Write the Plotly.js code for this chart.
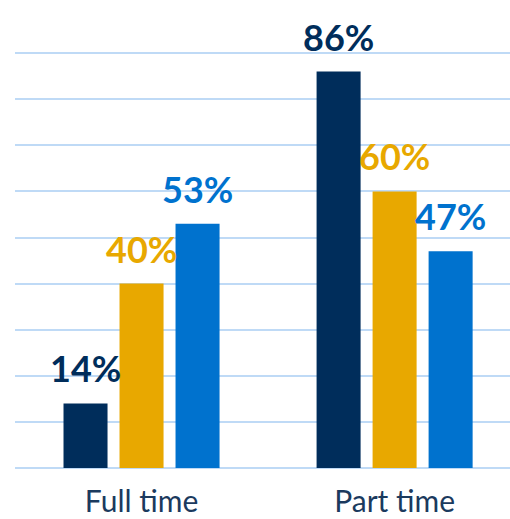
<!DOCTYPE html>
<html>
<head>
<meta charset="utf-8">
<script src="https://cdn.plot.ly/plotly-3.0.1.min.js"></script>
<style>html,body{margin:0;padding:0;background:#fff;}#chart{width:510px;height:519px;}</style>
</head>
<body>
<div id="chart"></div>
<script>
const categories = ["Full time", "Part time"];
const seriesA = [14, 86];
const seriesB = [40, 60];
const seriesC = [53, 47];
const seriesValues = [seriesA, seriesB, seriesC];
const seriesColors = ["#002D5B", "#E8A800", "#0072CE"];

const traces = seriesValues.map((vals, i) => ({
  type: "bar",
  x: categories,
  y: vals,
  marker: { color: seriesColors[i] },
  hoverinfo: "skip",
  showlegend: false
}));

const slotPx = 56;
const annotations = [];
seriesValues.forEach((vals, i) => {
  vals.forEach((v, j) => {
    annotations.push({
      x: categories[j], y: v, xref: "x", yref: "y",
      text: v + "%",
      showarrow: false,
      xanchor: "center", yanchor: "bottom",
      xshift: (i - 1) * slotPx,
      yshift: 11,
      font: { family: "Lato", size: 36, color: seriesColors[i], weight: 700 }
    });
  });
});

const layout = {
  width: 510, height: 519,
  margin: { l: 15, r: 0, t: 7, b: 51 },
  paper_bgcolor: "#ffffff", plot_bgcolor: "#ffffff",
  barmode: "group",
  bargap: 0.336,
  bargroupgap: 0.214,
  xaxis: {
    type: "category",
    range: [-0.5, 1.456],
    showgrid: false, zeroline: false, showline: false,
    ticks: "",
    ticklabelstandoff: 13,
    tickfont: { family: "Lato", size: 30, color: "#1B3A5E" }
  },
  yaxis: {
    range: [0, 100],
    dtick: 10,
    showgrid: true, gridcolor: "#BFDAF6", gridwidth: 2,
    zeroline: true, zerolinecolor: "#BFDAF6", zerolinewidth: 2,
    showticklabels: false, ticks: "", showline: false
  },
  annotations: annotations
};

Plotly.newPlot("chart", traces, layout, { displayModeBar: false, staticPlot: true });
</script>
</body>
</html>
